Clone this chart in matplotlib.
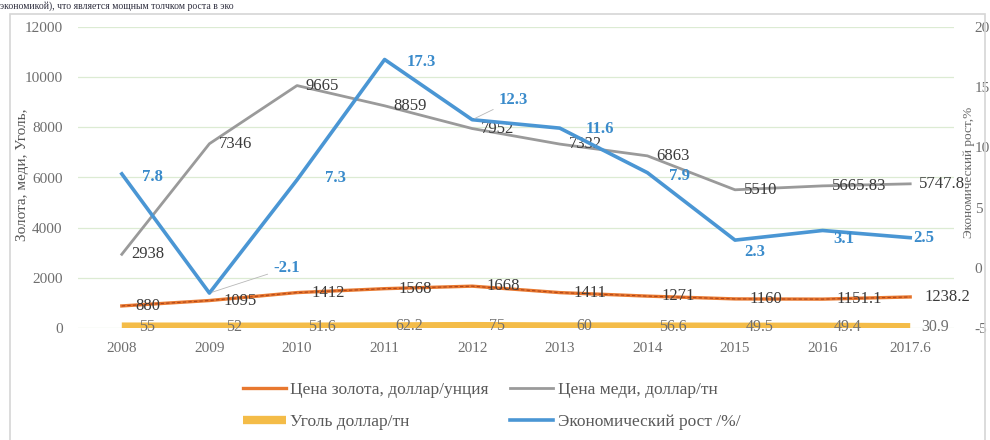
import matplotlib
matplotlib.use("Agg")
import matplotlib.pyplot as plt
from matplotlib.patches import Rectangle

plt.rcParams['font.family'] = ['Liberation Serif', 'DejaVu Serif']
plt.rcParams['axes.unicode_minus'] = False

# data
years = ['2008', '2009', '2010', '2011', '2012', '2013', '2014', '2015', '2016', '2017.6']
gold = [880, 1095, 1412, 1568, 1668, 1411, 1271, 1160, 1151.1, 1238.2]
copper = [2938, 7346, 9665, 8859, 7952, 7332, 6863, 5510, 5665.83, 5747.8]
coal = [55, 52, 51.6, 62.2, 75, 60, 56.6, 49.5, 49.4, 30.9]
growth = [7.8, -2.1, 7.3, 17.3, 12.3, 11.6, 7.9, 2.3, 3.1, 2.5]

gold_lbl = ['880', '1095', '1412', '1568', '1668', '1411', '1271', '1160', '1151.1', '1238.2']
copper_lbl = ['2938', '7346', '9665', '8859', '7952', '7332', '6863', '5510', '5665.83', '5747.8']
coal_lbl = ['55', '52', '51.6', '62.2', '75', '60', '56.6', '49.5', '49.4', '30.9']
growth_lbl = ['7.8', '-2.1', '7.3', '17.3', '12.3', '11.6', '7.9', '2.3', '3.1', '2.5']

# label offsets for growth labels (pixels)
growth_off = [(31, -3), (77, 25), (38, 2), (37, -2), (41, 20),
              (40, -1), (32, -3), (20, -12), (21, -9), (14, 0)]

c_gold = '#E8782F'
c_copper = '#9A9A9A'
c_coal = '#F4BC48'
c_growth = '#4A96D4'

fig = plt.figure(figsize=(9.9, 4.4), dpi=100)

# outer chart frame
fig.patches.append(Rectangle((10 / 990, -0.05), 975 / 990, 1.05 - 14 / 440,
                             transform=fig.transFigure, fill=False,
                             edgecolor='#D6D6D6', lw=1.2))

# text of the page above the chart
fig.text(0.0, 1 - 1 / 440, 'экономикой), что является мощным толчком роста в эко',
         fontsize=7, color='#2F2F3F', va='top', ha='left')

ax = fig.add_axes([78 / 990, 112 / 440, 876 / 990, 301 / 440])
x = list(range(len(years)))

ax.set_ylim(0, 12000)
ax.set_xlim(-0.5, len(years) - 0.5)
ax.set_yticks(range(0, 12001, 2000))
ax.grid(axis='y', color='#DCEBD3', lw=0.9)
ax.set_axisbelow(True)
for s in ax.spines.values():
    s.set_visible(False)
ax.tick_params(length=0, labelsize=11, labelcolor='#6E6E6E')
ax.tick_params(axis='y', pad=11)
ax.tick_params(axis='x', pad=10)
ax.set_xticks(x)
ax.set_xticklabels(years)

l_coal, = ax.plot(x, coal, color=c_coal, lw=6, solid_capstyle='butt', zorder=3)
l_gold, = ax.plot(x, gold, color=c_gold, lw=2.4, zorder=4)
ax.plot(x, gold, color='#B0451A', lw=0.8, ls=(0, (3, 2)), zorder=4)
l_copper, = ax.plot(x, copper, color=c_copper, lw=2, zorder=4)

for i in x:
    ax.annotate(copper_lbl[i], (i, copper[i]), xytext=(9, 0), textcoords='offset pixels',
                ha='left', va='center', fontsize=12, color='#3A3A3A', zorder=6)
    ax.annotate(gold_lbl[i], (i, gold[i]), xytext=(14, 0), textcoords='offset pixels',
                ha='left', va='center', fontsize=12, color='#3A3A3A', zorder=6)
    ax.annotate(coal_lbl[i], (i, coal[i]), xytext=(25, 0), textcoords='offset pixels',
                ha='center', va='center', fontsize=11.5, color='#6F6F6F', zorder=6)

ax2 = ax.twinx()
ax2.set_ylim(-5, 20)
ax2.set_yticks(range(-5, 21, 5))
for s in ax2.spines.values():
    s.set_visible(False)
ax2.tick_params(length=0, labelsize=11, labelcolor='#6E6E6E', pad=15)
l_growth, = ax2.plot(x, growth, color=c_growth, lw=2.6, zorder=5)

for i in x:
    dx, dy = growth_off[i]
    lead = dict(arrowstyle='-', color='#B8B8B8', lw=0.6) if dy > 15 else None
    ax2.annotate(growth_lbl[i], (i, growth[i]), xytext=(dx, dy), textcoords='offset pixels',
                 ha='center', va='center', fontsize=12, color='#3A8BCB',
                 fontweight='bold', arrowprops=lead, zorder=6)

fig.text(23 / 990, 1 - 175 / 440, 'Золота, меди, Уголь,', rotation=90,
         ha='center', va='center', fontsize=11, color='#555555')
fig.text(969 / 990, 1 - 172 / 440, 'Экономический рост,%', rotation=90,
         ha='center', va='center', fontsize=9.5, color='#666666')

fig.legend([l_gold, l_coal, l_copper, l_growth],
           ['Цена золота, доллар/унция', 'Уголь доллар/тн',
            'Цена меди, доллар/тн', 'Экономический рост /%/'],
           ncol=2, loc='upper left', bbox_to_anchor=(234 / 990, 1 - 373 / 440),
           frameon=False, fontsize=12.5, handlelength=2.5, handletextpad=0.25,
           labelspacing=0.95, columnspacing=1.2, borderpad=0, labelcolor='#595959')

fig.savefig('out.png', dpi=100, facecolor='white')
